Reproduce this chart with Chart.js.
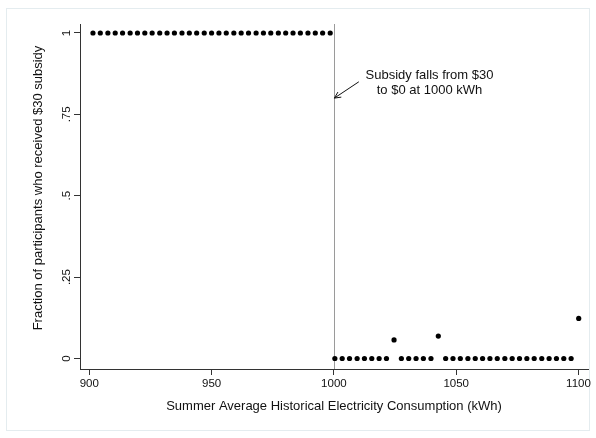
<!DOCTYPE html>
<html>
<head>
<meta charset="utf-8">
<script src="https://cdn.jsdelivr.net/npm/chart.js@4.4.1/dist/chart.umd.min.js"></script>
<style>
  html, body { margin: 0; padding: 0; background: #fff; }
  canvas { display: block; }
</style>
</head>
<body>
<canvas id="chart" width="596" height="438"></canvas>
<script>
// Bins below the 1000 kWh threshold (all received the subsidy)
const belowX = [901.5, 904.5, 907.6, 910.6, 913.6, 916.7, 919.7, 922.7, 925.7, 928.8,
                931.8, 934.8, 937.9, 940.9, 943.9, 947.0, 950.0, 953.0, 956.0, 959.1,
                962.1, 965.1, 968.2, 971.2, 974.2, 977.3, 980.3, 983.3, 986.3, 989.4,
                992.4, 995.4, 998.5];
const belowY = [1, 1, 1, 1, 1, 1, 1, 1, 1, 1,
                1, 1, 1, 1, 1, 1, 1, 1, 1, 1,
                1, 1, 1, 1, 1, 1, 1, 1, 1, 1,
                1, 1, 1];

// Bins above the threshold
const aboveX = [1000.4, 1003.4, 1006.4, 1009.5, 1012.5, 1015.5, 1018.5, 1021.5, 1024.6, 1027.6,
                1030.6, 1033.6, 1036.6, 1039.7, 1042.7, 1045.7, 1048.7, 1051.7, 1054.8, 1057.8,
                1060.8, 1063.8, 1066.8, 1069.9, 1072.9, 1075.9, 1078.9, 1081.9, 1085.0, 1088.0,
                1091.0, 1094.0, 1097.0, 1100.1];
const aboveY = [0, 0, 0, 0, 0, 0, 0, 0, 0.057, 0,
                0, 0, 0, 0, 0.069, 0, 0, 0, 0, 0,
                0, 0, 0, 0, 0, 0, 0, 0, 0, 0,
                0, 0, 0, 0.123];

const xTickValues = [900, 950, 1000, 1050, 1100];
const yTickValues = [0, 0.25, 0.5, 0.75, 1];
const yTickLabels = ['0', '.25', '.5', '.75', '1'];

const xTitle = 'Summer Average Historical Electricity Consumption (kWh)';
const yTitle = 'Fraction of participants who received $30 subsidy';
const noteLines = ['Subsidy falls from $30', 'to $0 at 1000 kWh'];
const cutoff = 1000;

const FONT = '"Liberation Sans", Arial, Helvetica, sans-serif';
const INK = '#111';

const toPoints = (xs, ys) => xs.map((x, i) => ({ x: x, y: ys[i] }));

const decor = {
  id: 'decor',
  beforeDraw(chart) {
    const ctx = chart.ctx;
    ctx.save();
    ctx.fillStyle = '#fff';
    ctx.fillRect(0, 0, chart.width, chart.height);
    ctx.strokeStyle = '#e4ecef';
    ctx.lineWidth = 1;
    ctx.strokeRect(6.5, 8.5, 583, 422);
    ctx.restore();
  },
  beforeDatasetsDraw(chart) {
    const ctx = chart.ctx;
    const xs = chart.scales.x;
    const area = chart.chartArea;
    const px = Math.round(xs.getPixelForValue(cutoff)) + 0.5;
    ctx.save();
    ctx.strokeStyle = '#9a9a9a';
    ctx.lineWidth = 1;
    ctx.beginPath();
    ctx.moveTo(px, area.top);
    ctx.lineTo(px, area.bottom);
    ctx.stroke();
    ctx.restore();
  },
  afterDraw(chart) {
    const ctx = chart.ctx;
    const xs = chart.scales.x;
    const ys = chart.scales.y;
    const area = chart.chartArea;
    ctx.save();
    ctx.fillStyle = INK;

    // y tick labels, rotated to read upward
    ctx.font = '11.5px ' + FONT;
    ctx.textAlign = 'center';
    ctx.textBaseline = 'middle';
    yTickValues.forEach((v, i) => {
      ctx.save();
      ctx.translate(67, ys.getPixelForValue(v));
      ctx.rotate(-Math.PI / 2);
      ctx.fillText(yTickLabels[i], 0, 0);
      ctx.restore();
    });

    // axis titles
    ctx.font = '13px ' + FONT;
    ctx.save();
    ctx.translate(38, 188);
    ctx.rotate(-Math.PI / 2);
    ctx.fillText(yTitle, 0, 0);
    ctx.restore();
    ctx.fillText(xTitle, (area.left + area.right) / 2, 406);

    // note beside the threshold
    ctx.font = '13px ' + FONT;
    const noteX = xs.getPixelForValue(1039.1);
    ctx.fillText(noteLines[0], noteX, ys.getPixelForValue(0.871));
    ctx.fillText(noteLines[1], noteX, ys.getPixelForValue(0.823));

    // arrow pointing at the threshold line
    const x0 = xs.getPixelForValue(1010.2), y0 = ys.getPixelForValue(0.85);
    const x1 = xs.getPixelForValue(cutoff) + 0.5, y1 = ys.getPixelForValue(0.8);
    const ang = Math.atan2(y1 - y0, x1 - x0);
    const head = 7, spread = 0.45;
    ctx.strokeStyle = INK;
    ctx.lineWidth = 1;
    ctx.beginPath();
    ctx.moveTo(x0, y0);
    ctx.lineTo(x1, y1);
    ctx.moveTo(x1 - head * Math.cos(ang - spread), y1 - head * Math.sin(ang - spread));
    ctx.lineTo(x1, y1);
    ctx.lineTo(x1 - head * Math.cos(ang + spread), y1 - head * Math.sin(ang + spread));
    ctx.stroke();
    ctx.restore();
  }
};

new Chart(document.getElementById('chart'), {
  type: 'scatter',
  data: {
    datasets: [
      { data: toPoints(belowX, belowY) },
      { data: toPoints(aboveX, aboveY) }
    ]
  },
  options: {
    responsive: false,
    animation: false,
    devicePixelRatio: 1,
    layout: { padding: { top: 24, right: 8, left: 0, bottom: 0 } },
    elements: {
      point: { radius: 2.6, backgroundColor: '#000', borderWidth: 0, pointStyle: 'circle' }
    },
    plugins: {
      legend: { display: false },
      tooltip: { enabled: false }
    },
    scales: {
      x: {
        type: 'linear',
        position: 'bottom',
        min: 896.2,
        max: 1103.9,
        afterBuildTicks: (s) => { s.ticks = xTickValues.map(v => ({ value: v })); },
        afterFit: (s) => { s.height = 69; },
        grid: { drawOnChartArea: false, drawTicks: true, tickLength: 6, color: '#333' },
        border: { display: true, color: '#333', width: 1 },
        ticks: {
          font: { family: FONT, size: 11.5 },
          color: INK,
          padding: 2,
          maxRotation: 0,
          callback: (v) => String(v)
        }
      },
      y: {
        type: 'linear',
        position: 'left',
        min: -0.0323,
        max: 1.0276,
        afterBuildTicks: (s) => { s.ticks = yTickValues.map(v => ({ value: v })); },
        afterFit: (s) => { s.width = 80; },
        grid: { drawOnChartArea: false, drawTicks: true, tickLength: 6, color: '#333' },
        border: { display: true, color: '#333', width: 1 },
        ticks: { display: false }
      }
    }
  },
  plugins: [decor]
});
</script>
</body>
</html>
